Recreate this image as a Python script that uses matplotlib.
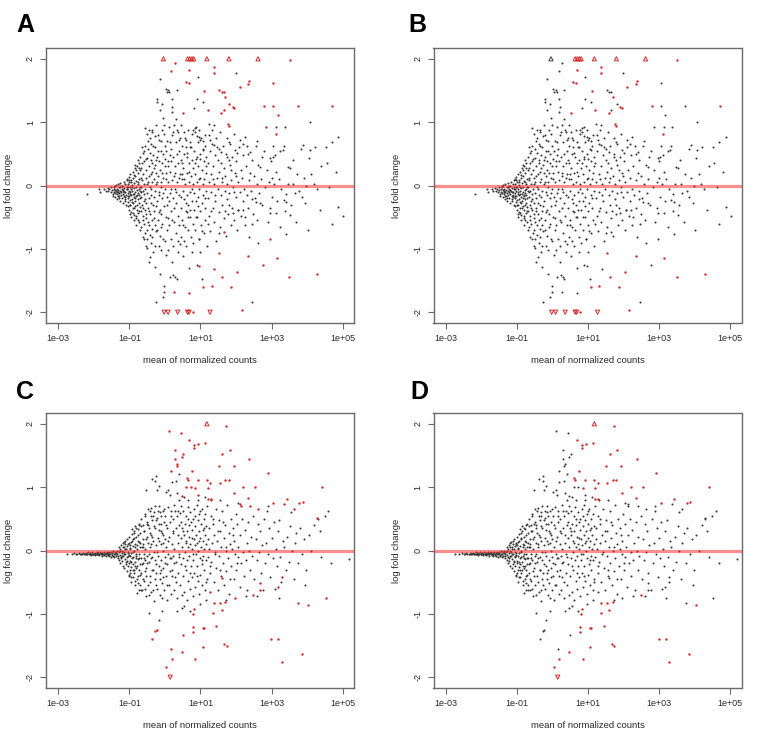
import matplotlib
matplotlib.use("Agg")
import matplotlib.pyplot as plt
import numpy as np

plt.rcParams['font.family'] = ['Liberation Sans', 'DejaVu Sans']

# ---------------- DATA (log10 of mean of normalized counts, log fold change) -------------
# Panels A and B share the same genes
AB_black = [
    (-2.19,-0.13),(-1.85,-0.06),(-1.82,-0.11),(-1.70,-0.06),(-1.67,-0.09),(-1.61,-0.04),(-1.59,-0.08),
    (-1.56,-0.05),(-1.53,-0.10),(-1.51,-0.02),(-1.49,-0.07),(-1.47,-0.13),(-1.44,-0.05),(-1.44,-0.10),(-1.47,-0.17),
    (-1.42,-0.03),(-1.41,-0.12),(-1.40,-0.07),(-1.39,-0.18),(-1.38,0.01),(-1.37,-0.09),(-1.36,-0.14),(-1.35,-0.05),
    (-1.34,-0.21),(-1.33,-0.10),(-1.32,0.02),(-1.31,-0.07),(-1.30,-0.16),(-1.29,-0.12),(-1.28,-0.03),(-1.27,-0.24),
    (-1.26,-0.08),(-1.25,0.04),(-1.24,-0.15),(-1.23,-0.11),(-1.22,-0.05),(-1.21,-0.19),(-1.20,-0.01),(-1.19,-0.13),
    (-1.18,-0.27),(-1.17,-0.08),(-1.16,0.06),(-1.15,-0.17),(-1.14,-0.04),(-1.13,-0.22),(-1.12,-0.10),(-1.11,0.03),
    (-1.10,-0.15),(-1.09,-0.30),(-1.08,-0.06),(-1.08,0.08),(-1.41,-0.01),(-1.33,-0.16),(-1.26,-0.02),(-1.19,-0.07),
    (-1.12,-0.18),(-1.36,-0.10),(-1.29,-0.20),(-1.22,0.00),(-1.15,-0.11),
    (-1.06,0.10),(-1.06,-0.05),(-1.05,-0.20),(-1.05,-0.33),(-1.04,0.02),(-1.04,-0.12),(-1.03,-0.26),(-1.02,0.14),
    (-1.02,-0.08),(-1.01,-0.17),(-1.00,-0.38),(-1.00,0.05),(-0.99,-0.02),(-0.99,-0.23),(-0.98,-0.11),(-0.97,0.18),
    (-0.97,-0.30),(-0.96,-0.06),(-0.95,-0.15),(-0.95,0.08),(-0.94,-0.42),(-0.93,-0.21),(-0.93,0.01),(-0.92,-0.09),
    (-0.91,0.22),(-0.91,-0.35),(-0.90,-0.13),(-0.89,-0.27),(-0.89,0.12),(-0.88,-0.04),(-0.87,-0.18),(-0.87,-0.47),
    (-0.86,0.04),(-0.85,-0.24),(-0.85,0.27),(-0.84,-0.10),(-0.83,-0.32),(-0.83,0.15),(-0.82,-0.02),(-0.81,-0.16),
    (-0.81,-0.52),(-0.80,0.07),(-0.79,-0.38),(-0.79,0.31),(-0.78,-0.07),(-0.77,-0.22),(-0.77,0.19),(-0.76,-0.12),
    (-0.75,-0.44),(-0.75,0.02),(-0.74,-0.28),(-0.73,0.36),(-0.73,-0.05),(-0.72,-0.58),(-0.72,0.11),(-0.71,-0.19),
    (-0.71,-0.34),(-0.70,0.24),(-0.70,-0.09),(-0.96,-0.50),(-0.88,-0.55),(-0.80,-0.62),(-0.76,0.40),(-0.84,0.33),
    (-0.92,-0.03),(-0.98,-0.45),(-1.03,-0.02),(-0.86,-0.13),(-0.78,-0.30),(-0.74,-0.15),
    (-0.69,0.45),(-0.68,-0.02),(-0.68,-0.40),(-0.67,0.28),(-0.66,-0.18),(-0.66,-0.65),(-0.65,0.08),(-0.64,-0.30),
    (-0.63,0.52),(-0.63,-0.08),(-0.62,-0.48),(-0.61,0.18),(-0.60,-0.24),(-0.60,-0.60),(-0.59,0.02),(-0.58,0.38),
    (-0.58,-0.14),(-0.57,-0.38),(-0.56,0.62),(-0.55,-0.05),(-0.55,-0.75),(-0.54,0.25),(-0.53,-0.28),(-0.52,0.12),
    (-0.52,-0.52),(-0.51,0.82),(-0.50,-0.12),(-0.50,0.44),(-0.49,-0.85),(-0.48,0.05),(-0.47,-0.35),(-0.47,0.70),
    (-0.46,-0.20),(-0.45,0.30),(-0.44,-0.62),(-0.44,0.88),(-0.43,-0.02),(-0.42,0.52),(-0.41,-0.45),(-0.41,-1.13),
    (-0.40,0.18),(-0.39,-0.90),(-0.38,0.65),(-0.38,-0.15),(-0.37,0.35),(-0.36,-0.68),(-0.35,0.85),(-0.35,0.05),
    (-0.34,-0.30),(-0.33,0.48),(-0.33,-1.05),(-0.32,-0.52),(-0.65,0.60),(-0.57,0.90),(-0.48,-0.58),(-0.40,-0.05),
    (-0.36,0.22),(-0.62,-0.82),(-0.53,-0.95),(-0.45,-1.20),(-0.51,-0.70),(-0.36,0.88),
    (-0.31,0.10),(-0.30,-0.40),(-0.29,0.60),(-0.28,-0.08),(-0.28,-1.28),(-0.27,0.32),(-0.26,-0.72),(-0.26,-1.84),
    (-0.25,0.02),(-0.24,0.95),(-0.23,-0.25),(-0.22,1.37),(-0.22,1.32),(-0.21,0.45),(-0.20,-0.55),(-0.19,0.15),
    (-0.18,-0.95),(-0.17,0.72),(-0.16,-0.15),(-0.15,1.68),(-0.15,-0.38),(-0.14,0.25),(-0.14,1.19),(-0.13,-1.40),
    (-0.12,0.05),(-0.11,0.55),(-0.10,-0.65),(-0.09,0.88),(-0.08,1.28),(-0.08,-0.20),(-0.07,0.35),(-0.06,-1.76),
    (-0.05,-0.85),(-0.05,0.12),(-0.04,1.06),(-0.03,-0.32),(-0.02,-1.58),(-0.02,-1.68),(-0.01,0.62),(0.00,-0.05),
    (0.01,0.42),(0.02,-0.50),(0.03,1.53),(0.03,0.20),(0.04,-1.10),(0.05,-0.18),(0.05,1.48),(-0.20,0.80),
    (-0.12,-1.02),(-0.25,0.40),(-0.18,-0.10),(-0.02,0.95),(-0.29,-0.62),(-0.10,-0.45),(0.00,0.30),
    (0.06,0.70),(0.07,-0.30),(0.08,0.05),(0.09,-1.02),(0.10,0.38),(0.11,-0.62),(0.12,0.92),(0.13,-0.12),
    (0.14,-1.45),(0.15,0.22),(0.16,-0.85),(0.17,0.58),(0.18,-0.40),(0.19,0.08),(0.20,0.80),(0.21,-1.20),
    (0.22,-0.20),(0.23,0.45),(0.24,-1.41),(0.25,-0.58),(0.26,0.15),(0.27,0.95),(0.28,-0.05),(0.29,-1.44),
    (0.29,0.30),(0.30,-0.75),(0.31,0.68),(0.32,-0.28),(0.33,-1.47),(0.34,0.05),(0.35,0.88),(0.36,-0.48),
    (0.37,0.35),(0.38,-1.05),(0.39,-0.15),(0.40,0.55),(0.41,-0.62),(0.42,0.18),(0.42,-0.92),(0.43,0.75),
    (0.14,0.48),(0.22,-0.95),(0.32,1.05),(0.38,0.85),(0.08,-0.52),
    (0.10,1.51),(0.12,1.48),(0.19,1.37),(0.20,1.24),(0.19,1.16),(0.33,1.51),
    (0.44,-0.35),(0.45,0.40),(0.46,-0.82),(0.47,0.10),(0.48,0.62),(0.49,-0.55),(0.50,-0.08),(0.51,0.28),
    (0.52,-1.12),(0.53,0.85),(0.54,-0.22),(0.55,0.50),(0.56,-0.65),(0.57,0.02),(0.58,-0.40),(0.59,0.72),
    (0.60,-0.95),(0.61,0.20),(0.62,-0.15),(0.63,0.45),(0.64,-0.70),(0.65,0.88),(0.66,-0.30),(0.67,0.05),
    (0.68,-1.30),(0.69,0.35),(0.70,-0.50),(0.71,0.60),(0.72,-0.10),(0.73,0.15),(0.74,-0.82),(0.75,0.40),
    (0.76,-0.25),(0.77,0.82),(0.78,-0.60),(0.79,0.02),(0.80,0.28),(0.46,0.95),(0.55,-0.88),(0.62,-0.42),
    (0.70,0.68),(0.76,-1.05),(0.49,0.18),(0.58,0.60),
    (0.92,1.71),(0.83,1.22),(0.91,1.37),(1.08,1.31),(1.99,1.78),
    (0.81,-0.38),(0.82,0.55),(0.83,-0.12),(0.84,0.85),(0.85,-0.70),(0.86,0.18),(0.87,-0.25),(0.88,0.42),
    (0.89,-1.25),(0.90,0.05),(0.91,-0.50),(0.92,0.68),(0.93,-0.18),(0.94,0.30),(0.95,-0.85),(0.96,0.88),
    (0.97,-0.05),(0.98,0.50),(0.99,-0.40),(1.00,0.12),(1.01,-0.62),(1.02,0.75),(1.03,-0.28),(1.04,0.25),
    (1.05,-1.48),(1.06,0.02),(1.07,0.58),(1.08,-0.15),(1.09,0.38),(1.10,-0.75),(1.11,0.10),(1.12,-0.35),
    (1.13,0.80),(1.14,-0.55),(1.15,0.20),(1.16,-0.08),(1.17,0.45),(1.18,-0.95),(0.88,0.92),(1.00,-1.05),(1.12,0.62),
    (1.24,0.97),(1.37,0.96),
    (1.20,0.35),(1.22,-0.20),(1.24,0.05),(1.25,-0.48),(1.26,0.55),(1.28,-0.72),(1.30,0.18),(1.31,-0.10),
    (1.33,0.88),(1.34,-0.35),(1.36,0.30),(1.38,-0.58),(1.39,0.02),(1.41,0.48),(1.42,-0.25),(1.44,0.75),
    (1.45,-0.88),(1.47,0.12),(1.48,-0.05),(1.50,0.40),(1.52,-0.42),(1.53,0.22),(1.55,-0.65),(1.56,0.85),
    (1.58,-0.15),(1.60,0.05),(1.61,-0.30),(1.63,0.62),(1.65,-0.52),(1.66,0.28),(1.68,-0.08),(1.70,0.15),
    (1.71,-0.80),(1.73,0.50),(1.75,-0.22),(1.76,0.02),(1.78,-0.45),(1.80,0.68),(1.81,-0.12),(1.83,0.32),
    (1.85,-0.62),(1.86,0.08),(1.88,-0.35),(1.90,0.45),(1.92,-0.02),(1.93,0.82),(1.95,-0.55),(1.97,0.20),
    (1.99,-0.18),(2.01,0.38),(2.03,-0.70),(2.05,0.05),(2.07,-0.38),(2.09,0.60),(2.11,-0.10),(2.13,0.25),
    (2.15,-0.48),(2.17,0.12),(2.19,-0.25),(2.21,0.48),(2.23,-0.05),(2.25,-0.62),(2.27,0.30),(2.30,-0.15),
    (2.32,0.62),(2.34,-0.35),(2.36,0.08),(2.38,-0.82),(2.40,0.20),(2.43,-0.08),(2.45,0.40),(2.48,-0.45),
    (2.50,0.15),(2.53,-0.20),(2.56,0.62),(2.58,0.02),(2.60,-0.55),(2.63,0.32),(2.66,-0.12),(2.70,0.10),
    (2.74,-0.30),(2.78,0.55),(2.82,-0.02),(2.86,0.25),(2.90,-0.58),(2.93,0.05),(2.99,0.38),(3.02,-0.18),
    (3.08,0.02),(3.10,0.48),(3.16,-0.25),(3.20,0.10),(3.28,-0.05),(3.35,0.62),(3.39,-0.40),(3.45,0.02),
    (3.56,-0.30),(3.60,0.40),(3.72,0.18),(3.78,-0.08),(3.90,0.12),(3.95,-0.28),(4.12,0.18),(4.27,-0.05),
    (4.40,0.30),(4.62,-0.02),(4.80,0.22),
    (2.62,-0.91),(2.96,-0.44),(3.24,-0.65),(3.42,-0.76),(3.69,-0.58),(4.02,-0.71),(4.35,-0.38),(4.70,-0.61),
    (4.87,-0.34),(5.02,-0.48),(3.52,-0.47),(3.40,-0.14),(3.35,-0.23),(3.41,-0.26),(3.66,-0.12),(3.85,-0.18),
    (2.95,-0.36),(3.13,-0.43),(2.68,-0.28),(2.46,-0.60),(2.44,-0.22),(2.55,-0.26),(2.21,-0.39),(2.26,-0.49),
    (2.07,-0.38),(1.91,-0.44),(4.19,0.03),(3.97,0.00),(3.61,0.02),
    (4.08,1.00),(4.88,0.77),(4.69,0.69),(4.52,0.60),(4.55,0.35),(4.22,0.61),(4.08,0.56),(3.89,0.64),
    (3.83,0.58),(4.04,0.43),(3.47,0.29),(3.52,0.28),(3.31,0.56),(3.24,0.55),(3.05,0.62),(2.96,0.43),
    (3.03,0.45),(2.72,0.45),(2.59,0.71),(2.40,0.53),(2.35,0.49),(2.68,0.29),(3.00,0.12),(3.13,0.22),
    (2.10,0.72),(2.24,0.77),(2.19,0.65),(1.97,0.56),(2.02,0.52),(1.83,0.66),(1.74,0.45),(1.79,0.40),
    (1.51,0.58),(1.58,0.53),(1.27,0.72),(1.32,0.66),(1.37,0.64),(1.08,0.56),(0.99,0.72),(0.97,0.77),
    (0.78,0.87),(0.84,0.90),(0.90,0.45),(3.37,0.93),(3.13,0.92),(0.95,-0.85),(2.46,-1.84),
]
AB_black_extra = [
    (-1.13,-0.25),(-1.07,-0.03),(-1.04,-0.16),(-1.01,0.08),(-0.99,-0.31),(-0.97,-0.14),(-0.94,0.05),
    (-0.92,-0.26),(-0.90,-0.44),(-0.88,0.17),(-0.86,-0.36),(-0.84,-0.20),(-0.82,0.24),(-0.80,-0.48),
    (-0.79,-0.15),(-0.77,0.05),(-0.76,-0.55),(-0.74,0.28),(-0.72,-0.40),(-0.71,-0.02),(-0.69,-0.70),
    (-0.67,0.12),(-0.66,-0.10),(-0.64,0.35),(-0.63,-0.55),(-0.61,-0.36),(-0.59,0.55),(-0.58,-0.85),
    (-0.56,-0.22),(-0.54,0.42),(-0.53,-0.45),(-0.51,0.02),(-0.50,-0.98),(-0.48,0.58),(-0.46,-0.40),
    (-0.45,0.15),(-0.43,-0.78),(-0.42,0.75),(-0.40,-0.28),(-0.39,0.40),(-0.37,-0.55),(-0.35,-0.82),
    (-0.34,0.62),(-0.32,0.28),(-0.31,-0.18),(-0.29,-0.95),(-0.27,0.78),(-0.26,-0.32),(-0.24,0.20),
    (-0.22,-0.70),(-0.21,0.05),(-0.19,0.55),(-0.17,-0.42),(-0.16,0.38),(-0.14,-0.80),(-0.12,0.70),
    (-0.11,-0.02),(-0.09,0.20),(-0.07,-0.60),(-0.06,0.50),(-0.04,-0.12),(-0.03,0.82),(-0.01,-0.88),
    (0.02,0.10),(0.04,0.55),(0.07,-0.70),(0.09,0.30),(0.11,-0.25),(0.13,0.68),(0.16,-0.05),(0.18,0.38),
    (0.21,-0.55),(0.24,0.85),(0.26,-0.35),(0.28,0.20),(0.31,-0.10),(0.34,0.50),(0.36,-0.88),(0.39,0.12),
    (0.41,0.72),(0.44,-0.18),(0.47,0.35),(0.50,-0.62),(0.53,0.10),(0.56,0.75),(0.59,-0.28),(0.62,0.52),
    (0.65,-0.50),(0.68,0.22),(0.71,-0.38),(0.74,0.60),(0.77,-0.05),(0.80,-0.90),(0.84,0.35),(0.87,-0.50),
    (0.90,0.78),(0.93,-0.32),(0.97,0.10),(1.00,0.42),(1.04,-0.72),(1.08,0.70),(1.12,-0.20),(1.16,0.30),
    (1.20,-0.60),(1.25,0.80),(1.30,-0.40),(1.35,0.10),(1.40,-0.15),(1.46,0.60),(1.52,-0.75),(1.57,0.35),
    (1.62,0.12),(1.68,-0.40),(1.74,0.75),(1.80,-0.30),(1.87,0.25),(1.94,-0.10),(2.00,0.15),
]
AB_red = [
    (0.69,1.83),(0.58,1.63),(0.67,1.62),(1.37,1.87),(1.37,1.78),(2.37,1.65),(2.35,1.60),(3.51,1.98),
    (2.10,1.55),(1.11,1.49),(1.70,1.40),(1.91,1.24),(1.95,1.23),(1.58,1.14),(2.79,1.25),(4.71,1.25),
    (3.12,0.81),(1.77,0.97),(1.80,0.94),(1.62,-1.44),(1.08,-1.60),(1.32,-1.59),(1.86,-1.60),(2.04,-1.36),
    (2.34,-1.11),(3.15,-1.14),(3.50,-1.45),(4.29,-1.39),(1.53,-1.06),(0.78,-1.99),(2.16,-1.97),(0.52,1.14),
    (1.20,1.19),
]
A_only_red = [
    (0.28,1.94),(0.18,1.81),(3.05,1.61),(1.53,1.51),(1.60,1.48),(1.66,1.47),(1.81,1.29),(1.65,1.19),
    (3.05,1.25),(3.74,1.25),(3.18,1.11),(2.85,0.93),(0.96,-1.27),(1.39,-1.32),(2.77,-1.26),(2.97,-0.85),
    (1.65,-0.74),(0.26,-1.68),(0.69,-1.69),
]
AB_up_red = [0.64, 0.70, 0.76, 0.81, 1.18, 1.80, 2.62]   # log10 mean, clipped at +2
A_only_up_red = [-0.04]
AB_down_red = [-0.02, 0.09, 0.36, 0.64, 0.68, 1.27]       # log10 mean, clipped at -2

# Panels C and D share the same genes
CD_black = [
    (-2.75,-0.05),(-2.62,-0.05),(-2.55,-0.04),(-2.50,-0.06),(-2.46,-0.05),(-2.42,-0.04),(-2.39,-0.06),
    (-2.36,-0.05),(-2.33,-0.05),(-2.30,-0.04),(-2.28,-0.06),(-2.25,-0.05),(-2.23,-0.04),(-2.20,-0.06),
    (-2.18,-0.05),(-2.16,-0.03),(-2.14,-0.06),(-2.12,-0.05),(-2.10,-0.04),(-2.08,-0.07),(-2.06,-0.05),
    (-2.04,-0.03),(-2.02,-0.06),(-2.00,-0.05),(-1.98,-0.04),(-1.96,-0.07),(-1.94,-0.05),(-1.92,-0.03),
    (-1.90,-0.06),(-1.88,-0.04),(-1.86,-0.07),(-1.84,-0.05),(-1.82,-0.03),(-1.80,-0.06),(-1.78,-0.08),
    (-1.76,-0.04),(-1.74,-0.05),(-1.72,-0.02),(-1.70,-0.07),(-1.68,-0.05),(-1.66,-0.09),(-1.64,-0.03),
    (-1.62,-0.06),(-1.60,-0.04),(-1.58,-0.08),(-1.56,-0.02),(-1.54,-0.06),(-1.52,-0.10),(-1.50,-0.04),
    (-1.48,-0.07),(-1.46,-0.01),(-1.44,-0.05),(-1.42,-0.11),(-1.40,-0.03),(-1.38,-0.08),(-1.36,0.00),
    (-1.34,-0.06),(-1.32,-0.12),(-1.30,-0.02),(-1.97,-0.06),(-1.87,-0.05),(-1.77,-0.06),(-1.67,-0.04),
    (-1.57,-0.05),(-1.47,-0.08),(-1.37,-0.04),(-1.33,-0.09),(-1.41,-0.06),(-1.51,-0.03),(-1.61,-0.07),
    (-1.71,-0.05),(-1.81,-0.04),(-1.91,-0.06),(-2.01,-0.05),(-2.11,-0.05),(-2.21,-0.05),
    (-1.29,0.05),(-1.28,-0.15),(-1.27,-0.07),(-1.26,0.02),(-1.25,-0.20),(-1.24,-0.10),(-1.23,0.08),
    (-1.22,-0.04),(-1.21,-0.17),(-1.20,0.00),(-1.19,-0.24),(-1.18,0.12),(-1.17,-0.09),(-1.16,-0.02),
    (-1.15,-0.28),(-1.14,0.06),(-1.13,-0.14),(-1.12,0.15),(-1.11,-0.06),(-1.10,-0.21),(-1.09,0.03),
    (-1.08,-0.32),(-1.07,0.18),(-1.06,-0.11),(-1.05,-0.02),(-1.04,-0.25),(-1.03,0.10),(-1.02,-0.38),
    (-1.01,-0.07),(-1.00,0.22),(-0.99,-0.16),(-0.98,0.04),(-0.97,-0.30),(-0.96,0.14),(-0.95,-0.04),
    (-0.94,-0.42),(-0.93,0.26),(-0.92,-0.12),(-0.91,0.07),(-0.90,-0.22),(-0.89,0.18),(-0.88,-0.35),
    (-0.87,-0.01),(-0.86,0.30),(-0.85,-0.18),(-0.84,-0.48),(-0.83,0.10),(-0.82,-0.08),(-0.81,0.22),
    (-0.80,-0.28),(-0.79,-0.67),(-0.78,0.02),(-0.77,0.34),(-0.76,-0.14),(-0.75,-0.40),(-0.74,0.13),
    (-0.73,-0.05),(-0.72,0.42),(-0.71,-0.22),(-0.70,-0.55),(-1.27,0.00),(-1.23,-0.12),(-1.19,0.05),
    (-1.15,-0.06),(-1.11,0.10),(-1.07,-0.16),(-1.03,-0.04),(-0.99,0.08),(-0.95,-0.26),(-0.91,-0.30),
    (-0.87,0.20),(-0.83,-0.25),(-0.79,0.08),(-0.75,0.25),(-0.71,0.05),(-1.02,-0.41),(-0.96,-0.50),
    (-0.92,0.34),(-0.85,0.38),(-0.78,-0.45),(-0.73,-0.62),(-1.20,-0.09),(-1.13,0.02),(-1.06,0.07),
    (-0.98,-0.09),(-0.89,-0.02),(-0.81,-0.12),(-0.74,-0.30),(-1.16,0.13),(-1.09,-0.18),(-1.00,-0.20),
    (-0.69,0.28),(-0.68,-0.12),(-0.67,0.50),(-0.66,-0.35),(-0.65,0.05),(-0.64,-0.62),(-0.63,0.18),
    (-0.62,-0.20),(-0.61,0.40),(-0.60,-0.05),(-0.59,-0.48),(-0.58,0.30),(-0.57,-0.15),(-0.56,0.58),
    (-0.55,0.02),(-0.54,-0.72),(-0.53,0.95),(-0.52,-0.28),(-0.51,0.22),(-0.50,-0.08),(-0.49,0.45),
    (-0.48,-0.55),(-0.47,0.12),(-0.46,-0.99),(-0.45,0.35),(-0.44,-0.18),(-0.43,0.62),(-0.42,-0.40),
    (-0.41,0.05),(-0.40,0.67),(-0.39,-0.65),(-0.38,0.25),(-0.37,1.13),(-0.36,-0.10),(-0.35,0.48),
    (-0.34,-0.30),(-0.33,0.15),(-0.32,-0.80),(-0.31,0.38),(-0.30,-0.02),(-0.29,0.70),(-0.28,-0.45),
    (-0.27,1.09),(-0.26,1.17),(-0.25,0.08),(-0.24,-0.22),(-0.23,0.96),(-0.22,0.52),(-0.21,-0.60),
    (-0.20,0.20),(-0.19,-0.08),(-0.18,1.02),(-0.17,0.32),(-0.16,0.70),(-0.15,-0.35),(-0.14,0.60),
    (-0.13,-0.70),(-0.12,0.10),(-0.11,0.42),(-0.10,-0.15),(-0.09,-0.52),(-0.08,0.28),(-0.07,-0.96),
    (-0.06,0.62),(-0.05,0.00),(-0.04,-0.28),(-0.03,0.45),(-0.02,-0.62),(-0.01,0.18),(0.00,-0.10),
    (0.01,0.55),(0.02,-0.40),(0.03,0.92),(0.04,0.05),(0.05,-0.78),(0.06,0.35),(0.07,-0.22),(0.08,0.68),
    (0.09,-0.05),(0.10,0.96),(0.11,-0.55),(0.12,0.22),(0.13,0.88),(0.14,-0.32),(0.15,0.45),(0.16,-0.12),
    (0.17,0.62),(0.18,-0.68),(0.19,1.08),(0.20,0.10),(-0.18,-1.09),(-0.62,0.10),(-0.55,-0.32),
    (-0.47,0.40),(-0.40,-0.12),(-0.33,0.55),(-0.26,-0.35),(-0.18,0.42),(-0.11,-0.30),(-0.04,0.25),
    (0.21,-0.30),(0.22,0.50),(0.23,-0.08),(0.24,0.28),(0.25,-0.62),(0.26,0.72),(0.27,0.02),(0.28,-0.42),
    (0.30,0.35),(0.31,-0.18),(0.32,1.09),(0.33,0.55),(0.34,-0.75),(0.35,0.91),(0.36,0.12),(0.37,-0.35),
    (0.38,0.62),(0.39,-0.05),(0.40,0.40),(0.41,1.20),(0.42,-0.55),(0.43,0.59),(0.44,0.20),(0.45,-0.22),
    (0.46,0.70),(0.47,-0.90),(0.48,0.05),(0.49,0.35),(0.50,-0.40),(0.51,0.62),(0.52,-0.12),(0.53,0.25),
    (0.54,0.85),(0.55,-0.65),(0.56,0.42),(0.57,-0.02),(0.58,0.15),(0.59,-0.30),(0.60,0.55),(0.61,-0.78),
    (0.62,0.30),(0.63,-0.15),(0.64,0.68),(0.65,0.05),(0.66,-0.48),(0.67,0.40),(0.68,-0.08),(0.69,0.22),
    (0.70,-0.60),(0.71,0.60),(0.72,0.10),(0.73,-0.25),(0.74,0.45),(0.75,-0.42),(0.76,0.02),(0.77,0.32),
    (0.78,-0.72),(0.79,0.50),(0.80,-0.15),(0.81,0.18),(0.82,0.65),(0.83,-0.35),(0.84,0.08),(0.85,-0.58),
    (0.86,0.38),(0.87,-0.05),(0.88,0.25),(0.89,0.72),(0.90,-0.25),(0.91,0.12),(0.92,-0.48),(0.93,0.48),
    (0.94,0.00),(0.95,0.30),(0.96,-0.68),(0.97,0.58),(0.98,-0.12),(0.99,0.20),(1.00,-0.38),(1.01,0.42),
    (1.02,0.05),(1.03,-0.22),(1.04,0.65),(1.05,-0.55),(1.06,0.15),(1.07,0.32),(1.08,-0.08),(1.09,0.50),
    (1.10,-0.30),(1.11,0.02),(1.12,0.25),(1.13,-0.62),(1.14,0.58),(1.15,-0.15),(1.16,0.10),(1.17,0.38),
    (1.18,-0.45),(1.19,0.70),(0.35,-0.95),(0.55,-0.88),(0.72,-0.95),(0.98,-0.85),(1.15,-0.78),(0.40,0.80),
    (0.66,0.80),(0.92,0.80),(1.12,0.85),
    (1.21,-0.10),(1.23,0.35),(1.25,0.02),(1.27,-0.35),(1.29,0.55),(1.31,-0.18),(1.33,0.12),(1.35,0.42),
    (1.37,-0.50),(1.39,0.25),(1.41,-0.02),(1.43,0.65),(1.45,-0.28),(1.47,0.15),(1.49,-0.62),(1.51,0.48),
    (1.53,-0.08),(1.55,0.30),(1.57,-0.40),(1.59,0.05),(1.61,0.62),(1.63,-0.20),(1.65,0.20),(1.67,-0.55),
    (1.69,0.40),(1.71,0.00),(1.73,-0.32),(1.75,0.72),(1.77,-0.12),(1.79,0.28),(1.81,-0.68),(1.83,0.10),
    (1.85,0.50),(1.87,-0.25),(1.89,0.02),(1.91,0.35),(1.93,-0.45),(1.95,0.15),(1.97,-0.05),(1.99,0.58),
    (2.01,-0.30),(2.03,0.42),(2.05,-0.10),(2.07,0.05),(2.10,-0.58),(2.12,0.25),(2.15,-0.20),(2.17,0.50),
    (2.20,-0.02),(2.22,-0.40),(2.25,0.32),(2.27,-0.15),(2.30,0.12),(2.32,-0.62),(2.35,0.45),(2.37,0.00),
    (2.40,-0.30),(2.42,0.22),(2.45,-0.08),(2.48,0.55),(1.30,0.80),(1.56,0.80),(1.72,-0.78),(2.05,0.75),
    (2.28,-0.72),
    (2.52,-0.45),(2.55,0.18),(2.58,-0.15),(2.61,0.42),(2.64,-0.02),(2.67,0.30),(2.70,-0.35),(2.73,0.08),
    (2.76,-0.62),(2.79,0.50),(2.82,-0.20),(2.85,0.12),(2.88,0.62),(2.91,-0.05),(2.94,0.35),(2.97,-0.42),
    (3.00,0.20),(3.03,-0.12),(3.06,0.45),(3.09,-0.60),(3.12,0.02),(3.15,-0.25),(3.18,0.30),(3.22,0.48),
    (3.25,-0.10),(3.28,-0.50),(3.32,0.15),(3.35,0.05),(3.40,-0.30),(3.44,0.22),(3.48,-0.18),(3.52,0.38),
    (3.57,0.00),(3.62,-0.45),(3.66,0.12),(3.70,0.28),(3.75,-0.20),(3.80,0.35),(3.86,-0.05),(3.92,0.18),
    (3.98,-0.30),(4.05,0.25),(4.12,0.00),(4.20,0.40),(4.30,0.50),(4.35,0.30),(4.40,-0.10),(4.50,0.55),
    (4.60,0.62),(4.68,-0.19),(5.19,-0.14),(2.60,-0.72),(2.90,0.70),(3.20,-0.75),(3.55,0.60),(3.95,-0.55),
]
CD_black_extra = [
    (-1.05,-0.08),(-1.02,0.12),(-0.99,-0.35),(-0.97,0.02),(-0.94,-0.18),(-0.93,0.15),(-0.91,-0.42),
    (-0.89,-0.10),(-0.88,0.28),(-0.86,-0.30),(-0.84,0.05),(-0.83,-0.55),(-0.81,0.35),(-0.80,-0.05),
    (-0.78,-0.25),(-0.77,0.15),(-0.75,-0.52),(-0.74,0.40),(-0.72,-0.12),(-0.71,-0.38),(-0.69,0.12),
    (-0.68,-0.62),(-0.66,0.38),(-0.65,-0.22),(-0.63,0.05),(-0.62,-0.45),(-0.60,0.30),(-0.59,-0.12),
    (-0.57,0.55),(-0.56,-0.60),(-0.54,0.18),(-0.52,-0.40),(-0.51,0.42),(-0.49,-0.20),(-0.48,0.65),
    (-0.46,-0.05),(-0.45,-0.70),(-0.43,0.28),(-0.41,-0.50),(-0.40,0.10),(-0.38,0.55),(-0.36,-0.30),
    (-0.35,0.22),(-0.33,-0.62),(-0.31,0.60),(-0.29,-0.15),(-0.28,0.35),(-0.26,-0.55),(-0.24,0.48),
    (-0.22,-0.02),(-0.20,0.62),(-0.18,-0.25),(-0.16,0.15),(-0.14,-0.45),(-0.12,0.55),(-0.10,0.30),
    (-0.08,-0.75),(-0.06,0.12),(-0.04,-0.42),(-0.02,0.65),(0.01,-0.20),(0.04,0.40),(0.07,-0.55),
    (0.10,0.15),(0.13,-0.12),(0.16,0.55),(0.19,-0.40),(0.22,0.30),(0.26,-0.20),(0.29,0.62),(0.32,-0.50),
    (0.36,0.25),(0.40,-0.10),(0.44,0.45),(0.48,-0.70),(0.52,0.30),(0.56,-0.25),(0.60,0.12),(0.65,0.50),
    (0.70,-0.35),(0.75,0.20),(0.80,-0.05),(0.85,0.55),(0.90,-0.40),(0.95,0.15),(1.00,0.62),(1.05,-0.15),
    (1.10,0.35),(1.16,-0.50),(1.22,0.18),(1.28,-0.25),(1.34,0.50),(1.40,-0.05),(1.48,0.30),(1.56,-0.30),
    (1.64,0.45),(1.72,0.05),(1.82,-0.45),(1.92,0.25),(2.02,-0.20),
]
CD_red = [
    (0.69,1.74),(0.83,1.66),(0.83,1.61),(0.94,1.68),(1.14,1.70),(1.72,1.97),(0.76,1.25),(1.61,1.53),
    (1.83,1.58),(1.52,1.34),(1.93,1.34),(2.38,1.45),(2.91,1.23),(0.62,1.15),(0.64,1.12),(1.18,1.12),
    (1.27,1.06),(0.92,1.12),(1.55,1.06),(1.70,1.11),(1.80,1.12),(2.21,1.01),(2.54,1.00),(4.41,1.00),
    (0.86,0.99),(1.20,0.98),(1.20,0.81),(1.29,0.81),(1.95,0.90),(2.35,0.83),(3.05,0.75),(3.43,0.82),
    (3.78,0.75),(3.88,0.76),
    (0.19,-1.71),(0.04,-1.84),(0.48,-1.60),(0.85,-1.72),(0.78,-1.21),(0.78,-1.29),(1.07,-1.22),
    (1.10,-1.22),(1.06,-1.52),(1.44,-1.19),(1.67,-1.47),(1.74,-1.50),(0.82,-0.92),(0.80,-1.01),
    (1.37,-0.83),(1.55,-0.83),(1.70,-0.82),(1.60,-0.94),(1.36,-0.99),(2.49,-0.71),(2.99,-1.39),
    (3.19,-1.39),(3.29,-1.76),(3.85,-1.64),(4.03,-0.86),
]
C_only_red = [
    (0.11,1.88),(0.44,1.85),(0.29,1.59),(0.29,1.45),(0.35,1.37),(0.33,1.34),(0.52,1.52),(0.48,1.48),
    (0.18,1.25),(0.48,0.86),(0.60,1.00),(0.73,1.00),(0.92,0.88),(2.12,0.73),(2.14,0.70),(2.40,0.71),
    (2.63,0.65),(3.36,0.73),(3.64,0.65),(4.29,0.52),(-0.23,-1.26),(-0.27,-1.27),(-0.35,-1.39),
    (0.17,-1.56),(0.50,-1.34),(1.27,-0.65),(1.60,-0.43),(2.68,-0.52),(2.68,-0.62),(3.17,-0.57),
    (3.29,-0.42),(3.75,-0.83),(4.52,-0.75),(1.96,-0.75),
]
CD_up_red = [1.18]
CD_down_red = [0.15]

PANEL_LETTERS = ["A", "B", "C", "D"]
X_TICKS = [1e-3, 1e-1, 1e1, 1e3, 1e5]
X_TICK_LABELS = ["1e-03", "1e-01", "1e+01", "1e+03", "1e+05"]
Y_TICKS = [-2, -1, 0, 1, 2]
CLIP = 2.0

# ---------------- PLOTTING -------------
BLACK = "#3a3a3a"
RED = "#d42a2a"
FRAME = "#6a6a6a"


def split(pts):
    a = np.array(pts, dtype=float)
    return 10 ** a[:, 0], a[:, 1]


def draw(ax, black, red, up, down):
    x, y = split(black)
    ax.scatter(x, y, s=2.2, c=BLACK, linewidths=0, zorder=2)
    if red:
        x, y = split(red)
        ax.scatter(x, y, s=3.0, c=RED, linewidths=0, zorder=2)
    for lx_list, val, mk in ((up, CLIP, "^"), (down, -CLIP, "v")):
        for lx, col in lx_list:
            ax.scatter([10 ** lx], [val], s=9, marker=mk, facecolors="none",
                       edgecolors=col, linewidths=0.7, zorder=2)
    ax.axhline(0, color="#ff2020", alpha=0.5, lw=2.3, zorder=3)
    ax.set_xscale("log")
    ax.set_xlim(10 ** -3.345, 10 ** 5.32)
    ax.set_ylim(-2.17, 2.17)
    ax.set_xticks(X_TICKS)
    ax.set_xticklabels(X_TICK_LABELS)
    ax.xaxis.set_minor_locator(matplotlib.ticker.NullLocator())
    ax.set_yticks(Y_TICKS)
    ax.set_yticklabels([str(v) for v in Y_TICKS], rotation=90, va="center")
    for sp in ax.spines.values():
        sp.set_color(FRAME)
        sp.set_linewidth(1.0)
    ax.tick_params(length=4, width=0.8, color=FRAME, labelsize=6.5,
                   labelcolor="#2a2a2a", pad=4)
    ax.set_xlabel("mean of normalized counts", fontsize=6.8, color="#2a2a2a", labelpad=9)
    ax.set_ylabel("log fold change", fontsize=6.8, color="#2a2a2a", labelpad=9)


fig = plt.figure(figsize=(7.63, 7.43), dpi=100)
W, H = 763.0, 743.0
rects = {
    "A": (46 / W, 1 - 323 / H, 308 / W, 275 / H),
    "B": (433.5 / W, 1 - 323 / H, 308 / W, 275 / H),
    "C": (46 / W, 1 - 688 / H, 308 / W, 275 / H),
    "D": (433.5 / W, 1 - 688 / H, 308 / W, 275 / H),
}

red_c, blk_c = RED, BLACK
panels = {
    "A": (AB_black + AB_black_extra, AB_red + A_only_red,
          [(v, red_c) for v in AB_up_red] + [(v, red_c) for v in A_only_up_red],
          [(v, red_c) for v in AB_down_red]),
    "B": (AB_black + AB_black_extra + A_only_red, AB_red,
          [(v, red_c) for v in AB_up_red] + [(v, blk_c) for v in A_only_up_red],
          [(v, red_c) for v in AB_down_red]),
    "C": (CD_black + CD_black_extra, CD_red + C_only_red,
          [(v, red_c) for v in CD_up_red], [(v, red_c) for v in CD_down_red]),
    "D": (CD_black + CD_black_extra + C_only_red, CD_red,
          [(v, red_c) for v in CD_up_red], [(v, red_c) for v in CD_down_red]),
}

letter_pos = {"A": (16, 25), "B": (408, 25), "C": (16, 392), "D": (410, 392)}
for key in PANEL_LETTERS:
    ax = fig.add_axes(rects[key])
    draw(ax, *panels[key])
    px, py = letter_pos[key]
    fig.text(px / W, 1 - py / H, key, fontsize=18, fontweight="bold",
             ha="left", va="center", color="black")

fig.savefig("out.png", dpi=100)
